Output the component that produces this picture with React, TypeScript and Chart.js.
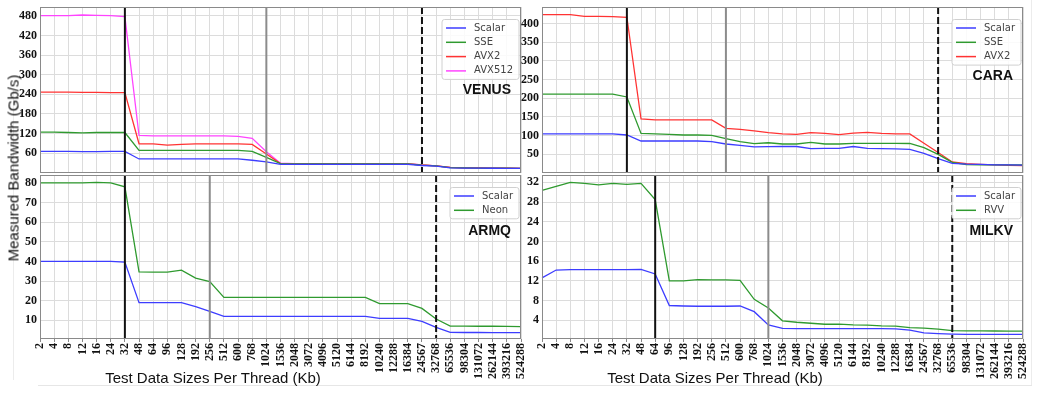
import React, { useEffect, useRef } from "react";
import { Chart, registerables } from "chart.js";
Chart.register(...registerables);

// ---------------- data ----------------
const sizes = ["2","4","8","12","16","24","32","48","64","96","128","192","256","512","600","768","1024","1536","2048","3072","4096","5120","6144","8192","10240","12288","16384","24567","32768","65536","98304","131072","262144","393216","524288"];

const venusScalar = [65,65,65,64.5,64.5,65,65, 42,42,42,42,42,42,42,42,38, 33, 25.5,25.5,25.5,25.5,25.5,25.5,25.5,25.5,25.5,25.5, 22,20, 15,14,14,13.5,13,13];
const venusSSE = [124,124,123,122,123,123,123, 68,68,68,68.5,68.5,68.5,68.5,68,65, 47, 28,27,27,27,27,27,27,27,27,27, 23,21, 15.5,14.5,14,13.5,13.5,13];
const venusAVX2 = [247,247,247,246,246,245,245, 88.5,88.5,84.5,86.5,88.5,88.5,88.5,88.5,86.5, 57, 28,27,27,27,27,27,27,27,27,27, 23.5,21, 16,15,14.5,14,13.5,13];
const venusAVX512 = [481,481,481,483,482,481,478, 114,113,113,113,113,113,113,111,105, 64, 29,27.5,27.5,27.5,27.5,27.5,27.5,27.5,27.5,27.5, 24,21, 16,15,14.5,14,13.5,13];

const caraScalar = [105,105,105,105,105,105,101.8, 85.7,85.7,85.7,85.7,85.7,84,77.7,74,70,70.5, 71.5,71,65.5,66,66,71,66,65.5,64.5,63, 52.5,38.5, 26,24,23,22,21.5,21];
const caraSSE = [211,211,211,211,211,211,203.6, 106,105,103.6,101.8,101.8,101,92,84,78.6,81, 77.7,77.7,82,77.7,77.7,79.5,79.5,79.5,79.5,79, 68,50, 28.6,22.5,22,21.5,21.5,21.5];
const caraAVX2 = [424,424,424,419.6,419.5,418.7,417, 144.6,142,142,142,142,142,119.6,117,113,108, 104.5,103.6,108,106,102.7,107,109,106,104.5,104.5, 79.5,55, 29.5,25,23,21.5,20.5,19.6];

const armqScalar = [40,40,40,40,40,40,39.7, 19,19,19,19,17,14.6, 12,12,12,12,12,12,12,12,12,12,12, 11,11,11,9.5,6.4,3.9,3.8,3.8,3.7,3.7,3.7];
const armqNeon = [80,80,80,80,80.2,80,78, 34.7,34.6,34.6,35.6,31.5,29.7, 21.7,21.7,21.7,21.7,21.7,21.7,21.7,21.7,21.7,21.7,21.7, 18.5,18.5,18.5,16.1,10.7,7.1,7.1,7.0,7.0,6.9,6.8];

const milkvScalar = [12.6,14.2,14.3,14.3,14.3,14.3,14.3,14.35,13.4, 7.0,6.9,6.85,6.85,6.85,6.9, 5.75,3.05,2.35,2.3,2.3,2.3,2.3,2.3,2.3,2.3,2.25,2.0,1.45,1.3,1.2,1.15,1.15,1.15,1.15,1.15];
const milkvRVV = [30.4,31.2,32,31.8,31.5,31.8,31.6,31.8,28.5, 12,12,12.25,12.2,12.2,12.1, 8.26,6.5,3.9,3.6,3.4,3.2,3.2,3.05,3.0,2.85,2.8,2.5,2.4,2.2,1.9,1.85,1.85,1.82,1.8,1.8];

const venusTicks = [60,120,180,240,300,360,420,480];
const caraTicks = [50,100,150,200,250,300,350,400];
const armqTicks = [10,20,30,40,50,60,70,80];
const milkvTicks = [4,8,12,16,20,24,28,32];

// vertical markers: [L1 boundary, L2 boundary, L3 boundary] as category indices
const venusMarks = [6, 16, 27];
const caraMarks = [6, 13, 28];
const armqMarks = [6, 12, 28];
const milkvMarks = [8, 16, 29];

// ---------------- styles ----------------
const BLUE = "#3d3dff";
const GREEN = "#2f9a2f";
const RED = "#ff3333";
const MAGENTA = "#ff44ff";
const SERIF = '"Liberation Serif", "DejaVu Serif", serif';
const SANS = '"Liberation Sans", Arial, sans-serif';

type Series = { label: string; data: number[]; color: string };
type PanelCfg = {
  name: string;
  series: Series[];
  yMin: number;
  yMax: number;
  yTicks: number[];
  marks: number[];
  showX: boolean;
  left: number;
  top: number;
  width: number;
  height: number;
  yAxisW: number;
  padTop: number;
  padRight: number;
  padBottom: number;
  xAxisH: number;
  nameDy: number;
};

const overlayPlugin = {
  id: "overlay",
  afterDraw(chart: any, _args: any, opts: any) {
    const cfg: PanelCfg = opts.cfg;
    const { ctx, chartArea } = chart;
    const xs = chart.scales.x;
    ctx.save();
    const styles = [
      { color: "#111111", dash: [] as number[] },
      { color: "#8c8c8c", dash: [] as number[] },
      { color: "#111111", dash: [7, 3] },
    ];
    cfg.marks.forEach((idx, k) => {
      const x = xs.getPixelForValue(idx);
      ctx.beginPath();
      ctx.setLineDash(styles[k].dash);
      ctx.strokeStyle = styles[k].color;
      ctx.lineWidth = 2;
      ctx.moveTo(x, chartArea.top);
      ctx.lineTo(x, chartArea.bottom);
      ctx.stroke();
    });
    ctx.setLineDash([]);
    // frame
    ctx.strokeStyle = "#8a8a8a";
    ctx.lineWidth = 1;
    ctx.strokeRect(chartArea.left + 0.5, chartArea.top + 0.5, chartArea.right - chartArea.left - 1, chartArea.bottom - chartArea.top - 1);
    // legend
    ctx.font = '10px "DejaVu Sans", sans-serif';
    const tw = Math.max(...cfg.series.map((s) => ctx.measureText(s.label).width));
    const rowH = 14.3;
    const boxW = 4 + 20 + 8 + tw + 6;
    const firstY = chartArea.top + 21;
    const boxTop = firstY - 8.5;
    const boxH = (cfg.series.length - 1) * rowH + 17;
    const boxRight = chartArea.right - 2;
    const boxLeft = boxRight - boxW;
    ctx.beginPath();
    const r = 2.5;
    ctx.moveTo(boxLeft + r, boxTop);
    ctx.lineTo(boxRight - r, boxTop);
    ctx.quadraticCurveTo(boxRight, boxTop, boxRight, boxTop + r);
    ctx.lineTo(boxRight, boxTop + boxH - r);
    ctx.quadraticCurveTo(boxRight, boxTop + boxH, boxRight - r, boxTop + boxH);
    ctx.lineTo(boxLeft + r, boxTop + boxH);
    ctx.quadraticCurveTo(boxLeft, boxTop + boxH, boxLeft, boxTop + boxH - r);
    ctx.lineTo(boxLeft, boxTop + r);
    ctx.quadraticCurveTo(boxLeft, boxTop, boxLeft + r, boxTop);
    ctx.closePath();
    ctx.fillStyle = "rgba(255,255,255,0.85)";
    ctx.fill();
    ctx.strokeStyle = "#d0d0d0";
    ctx.stroke();
    cfg.series.forEach((s, i) => {
      const y = firstY + i * rowH;
      ctx.beginPath();
      ctx.strokeStyle = s.color;
      ctx.lineWidth = 1.5;
      ctx.moveTo(boxLeft + 4, y);
      ctx.lineTo(boxLeft + 24, y);
      ctx.stroke();
      ctx.fillStyle = "#444444";
      ctx.textAlign = "left";
      ctx.textBaseline = "middle";
      ctx.fillText(s.label, boxLeft + 32, y);
    });
    // panel name
    ctx.font = `bold 14px ${SANS}`;
    ctx.fillStyle = "#111111";
    ctx.textAlign = "right";
    ctx.textBaseline = "middle";
    ctx.fillText(cfg.name, chartArea.right - 10, chartArea.top + cfg.nameDy);
    ctx.restore();
  },
};

function Panel({ cfg }: { cfg: PanelCfg }) {
  const ref = useRef<HTMLCanvasElement>(null);
  useEffect(() => {
    const chart = new Chart(ref.current as HTMLCanvasElement, {
      type: "line",
      data: {
        labels: sizes,
        datasets: cfg.series.map((s) => ({
          label: s.label,
          data: s.data,
          borderColor: s.color,
          backgroundColor: s.color,
          borderWidth: 1.3,
          pointRadius: 0,
          fill: false,
          tension: 0,
        })),
      },
      options: {
        animation: false,
        responsive: false,
        maintainAspectRatio: false,
        layout: { padding: { left: 0, top: cfg.padTop, right: cfg.padRight, bottom: cfg.padBottom } },
        plugins: {
          legend: { display: false },
          tooltip: { enabled: false },
          overlay: { cfg },
        } as any,
        scales: {
          x: {
            type: "category",
            offset: false,
            border: { display: false },
            grid: { color: "#dcdcdc", lineWidth: 1, drawTicks: cfg.showX, tickLength: 3, tickColor: "#888888" } as any,
            ticks: {
              display: cfg.showX,
              autoSkip: false,
              minRotation: 90,
              maxRotation: 90,
              padding: 1,
              color: "#111111",
              font: { family: SERIF, weight: "bold", size: 12 },
            },
            afterFit: (s: any) => {
              s.height = cfg.xAxisH;
              s.paddingLeft = 0;
              s.paddingRight = 0;
              s.paddingTop = 0;
              s.paddingBottom = 0;
            },
          },
          y: {
            type: "linear",
            min: cfg.yMin,
            max: cfg.yMax,
            border: { display: false },
            grid: { color: "#dcdcdc", lineWidth: 1, drawTicks: false },
            ticks: {
              padding: 3,
              color: "#111111",
              font: { family: SERIF, weight: "bold", size: 12 },
            },
            afterBuildTicks: (s: any) => {
              s.ticks = cfg.yTicks.map((v) => ({ value: v }));
            },
            afterFit: (s: any) => {
              s.width = cfg.yAxisW;
              s.paddingLeft = 0;
              s.paddingRight = 0;
              s.paddingTop = 0;
              s.paddingBottom = 0;
            },
          },
        },
      },
      plugins: [overlayPlugin],
    } as any);
    return () => chart.destroy();
  }, []);
  return (
    <canvas
      ref={ref}
      width={cfg.width}
      height={cfg.height}
      style={{ position: "absolute", left: cfg.left, top: cfg.top, width: cfg.width, height: cfg.height }}
    />
  );
}

const panels: PanelCfg[] = [
  {
    name: "VENUS",
    series: [
      { label: "Scalar", data: venusScalar, color: BLUE },
      { label: "SSE", data: venusSSE, color: GREEN },
      { label: "AVX2", data: venusAVX2, color: RED },
      { label: "AVX512", data: venusAVX512, color: MAGENTA },
    ],
    yMin: -1, yMax: 507.5, yTicks: venusTicks, marks: venusMarks, showX: false,
    left: 0, top: 0, width: 530, height: 176, yAxisW: 40, padTop: 7, padRight: 9, padBottom: 3, xAxisH: 0, nameDy: 83,
  },
  {
    name: "CARA",
    series: [
      { label: "Scalar", data: caraScalar, color: BLUE },
      { label: "SSE", data: caraSSE, color: GREEN },
      { label: "AVX2", data: caraAVX2, color: RED },
    ],
    yMin: 0, yMax: 444.5, yTicks: caraTicks, marks: caraMarks, showX: false,
    left: 500, top: 0, width: 530, height: 176, yAxisW: 42, padTop: 7, padRight: 7, padBottom: 3, xAxisH: 0, nameDy: 69,
  },
  {
    name: "ARMQ",
    series: [
      { label: "Scalar", data: armqScalar, color: BLUE },
      { label: "Neon", data: armqNeon, color: GREEN },
    ],
    yMin: 0.5, yMax: 84, yTicks: armqTicks, marks: armqMarks, showX: true,
    left: 0, top: 170, width: 530, height: 215, yAxisW: 40, padTop: 5, padRight: 9, padBottom: 0, xAxisH: 46, nameDy: 56.5,
  },
  {
    name: "MILKV",
    series: [
      { label: "Scalar", data: milkvScalar, color: BLUE },
      { label: "RVV", data: milkvRVV, color: GREEN },
    ],
    yMin: 0.2, yMax: 33.5, yTicks: milkvTicks, marks: milkvMarks, showX: true,
    left: 500, top: 170, width: 530, height: 215, yAxisW: 42, padTop: 5, padRight: 7, padBottom: 0, xAxisH: 46, nameDy: 56,
  },
];

export default function App() {
  const titleStyle: React.CSSProperties = {
    position: "absolute",
    fontFamily: SANS,
    fontSize: 15,
    color: "#111111",
    whiteSpace: "nowrap",
    lineHeight: "15px",
  };
  return (
    <div style={{ position: "absolute", left: 0, top: 0, width: 1041, height: 411, background: "#ffffff", overflow: "hidden" }}>
      <div style={{ position: "absolute", left: 13, top: 90, width: 1, height: 290, background: "#ececec" }} />
      <div style={{ position: "absolute", left: 38, top: 385, width: 994, height: 1, background: "#e6e6e6" }} />
      <div style={{ position: "absolute", left: 1031, top: 0, width: 1, height: 385, background: "#ececec" }} />
      {panels.map((p) => (
        <Panel key={p.name} cfg={p} />
      ))}
      <div style={{ ...titleStyle, left: 12.5, top: 167.5, transform: "translate(-50%, -50%) rotate(-90deg)" }}>
        Measured Bandwidth (Gb/s)
      </div>
      <div style={{ ...titleStyle, left: 213, top: 377, transform: "translate(-50%, -50%)" }}>
        Test Data Sizes Per Thread (Kb)
      </div>
      <div style={{ ...titleStyle, left: 715, top: 377, transform: "translate(-50%, -50%)" }}>
        Test Data Sizes Per Thread (Kb)
      </div>
    </div>
  );
}
